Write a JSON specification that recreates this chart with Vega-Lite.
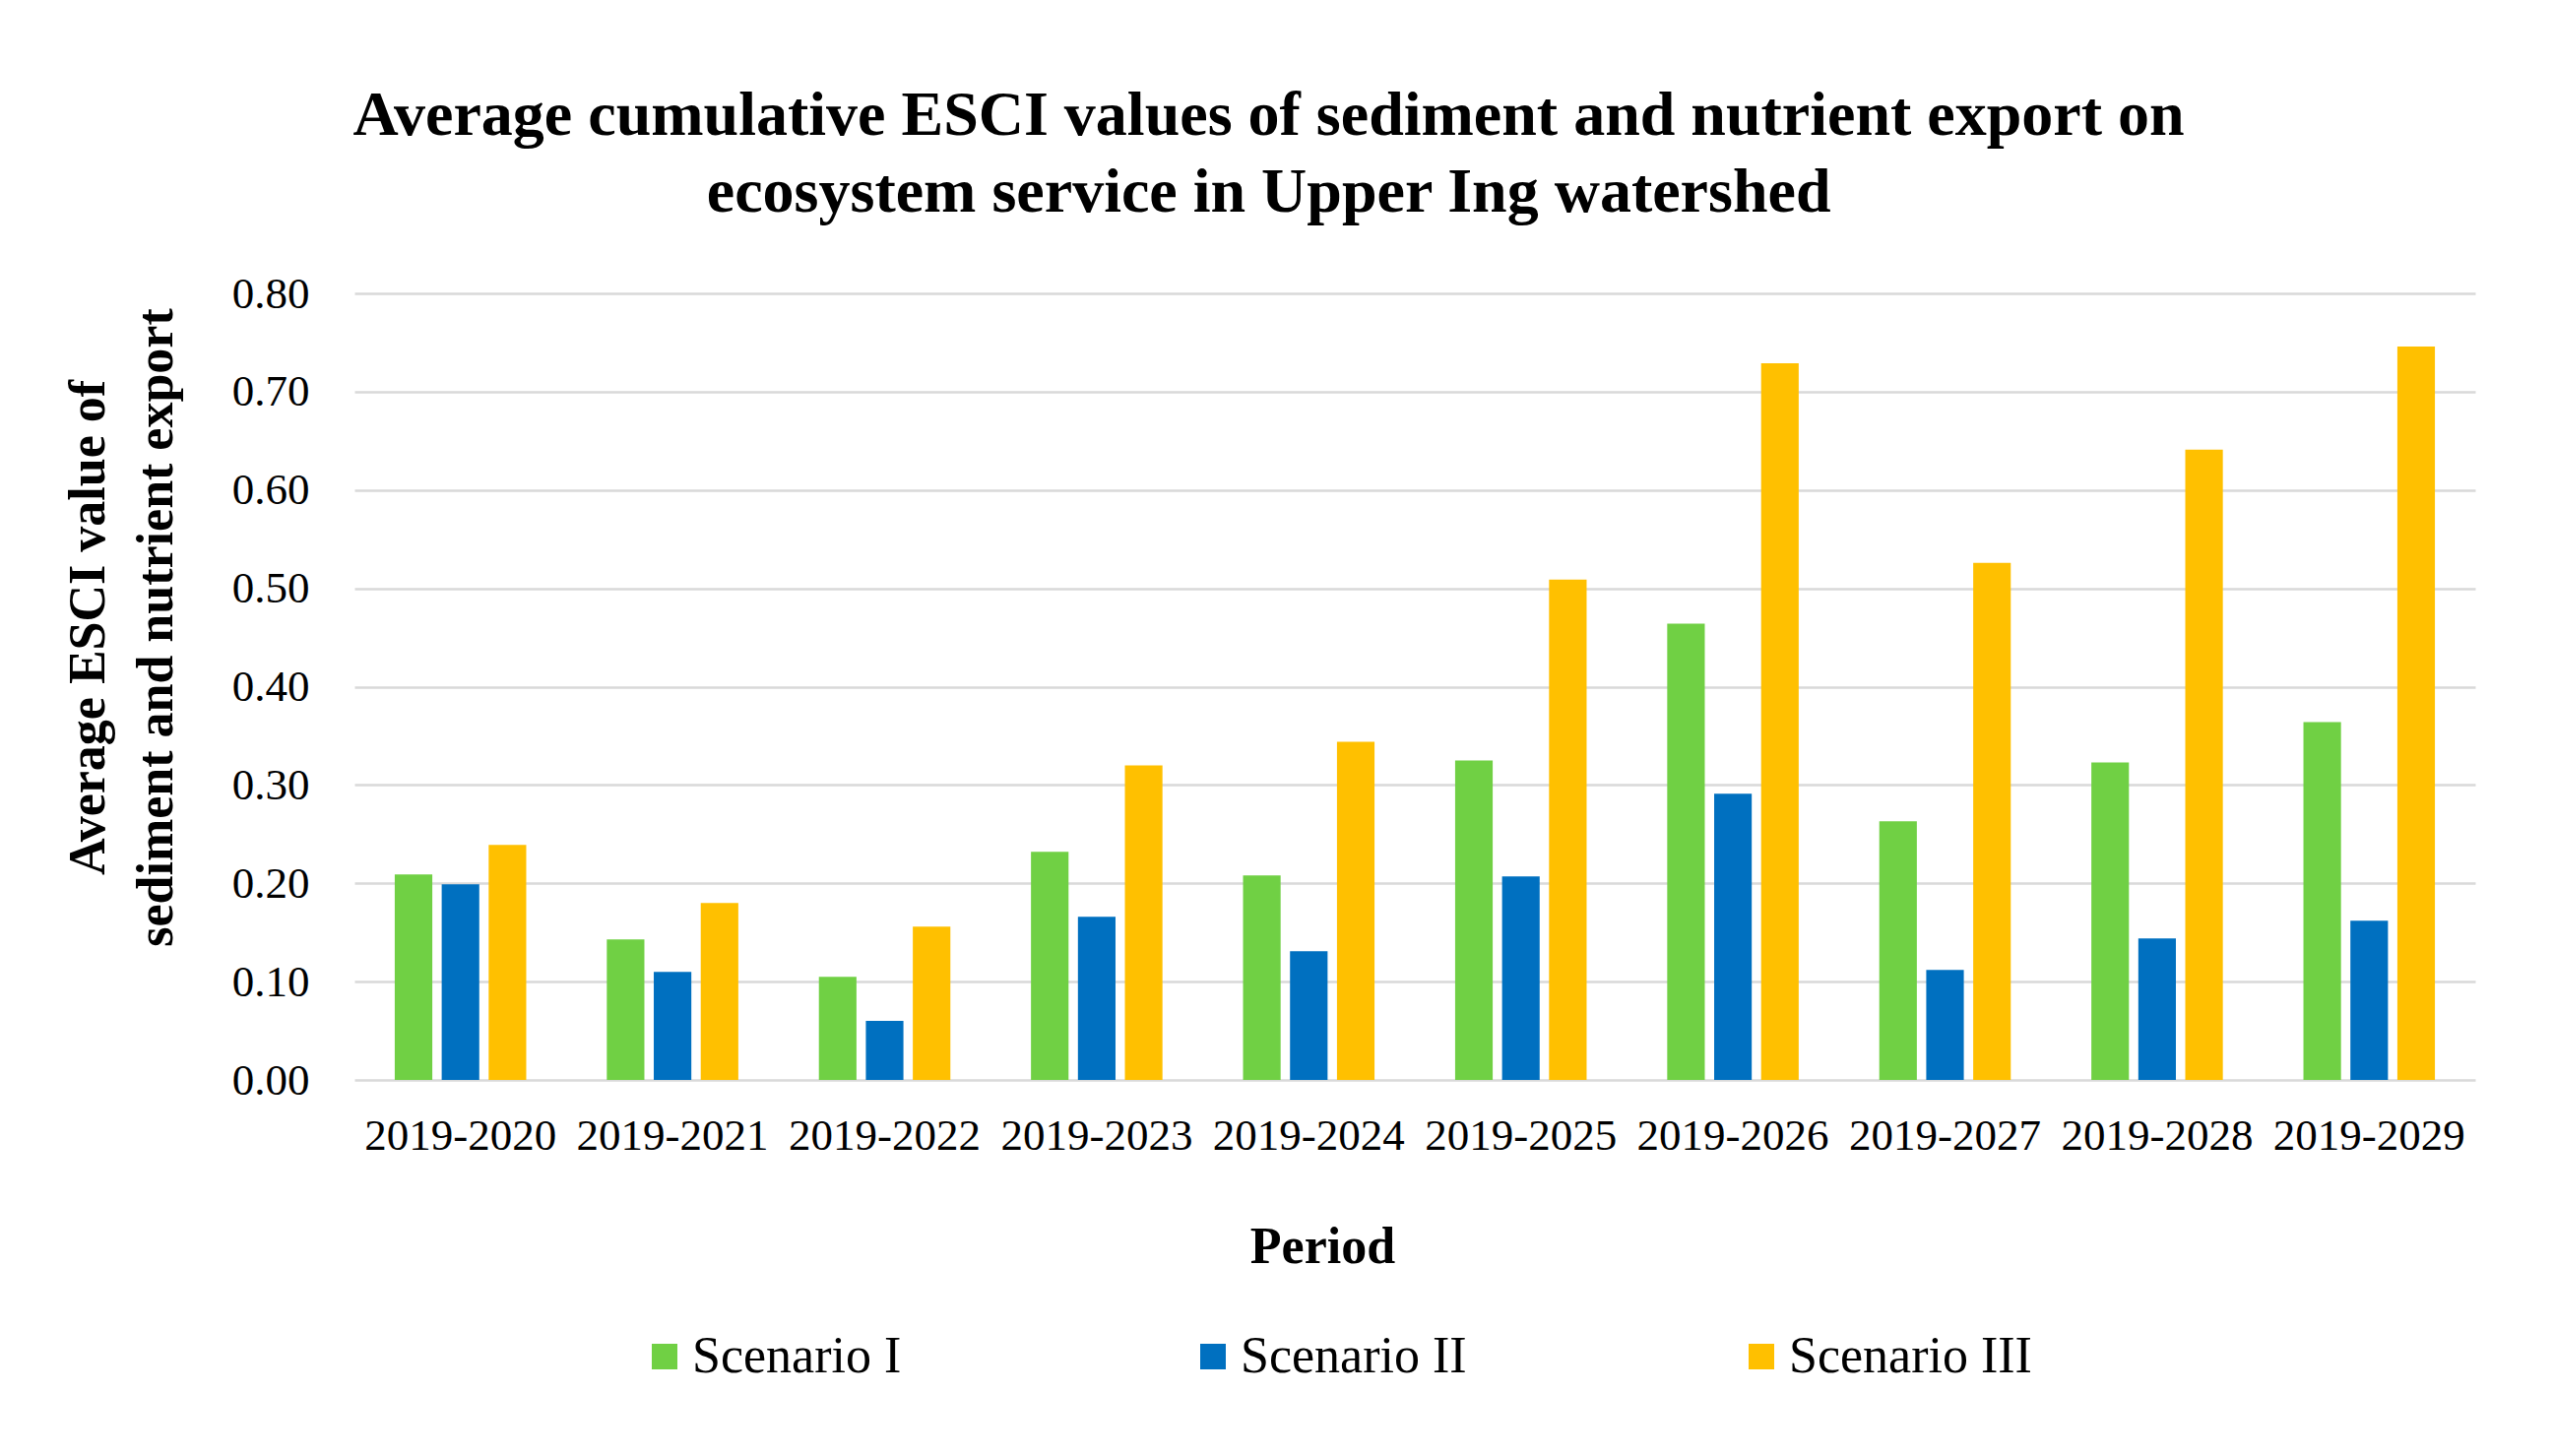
{
  "$schema": "https://vega.github.io/schema/vega-lite/v6.json",
  "width": 2154,
  "height": 799,
  "autosize": {"type": "none"},
  "padding": {"left": 360, "top": 298, "right": 79, "bottom": 382},
  "background": "white",
  "title": {
    "text": ["Average cumulative ESCI values of sediment and nutrient export on", "ecosystem service in Upper Ing watershed"],
    "anchor": "middle",
    "frame": "bounds",
    "font": "Liberation Serif",
    "fontSize": 64,
    "fontWeight": "bold",
    "lineHeight": 78,
    "offset": 48,
    "color": "#000000"
  },
  "data": {
    "values": [
      {"period": "2019-2020", "scenario": "Scenario I", "value": 0.209},
      {"period": "2019-2020", "scenario": "Scenario II", "value": 0.199},
      {"period": "2019-2020", "scenario": "Scenario III", "value": 0.239},
      {"period": "2019-2021", "scenario": "Scenario I", "value": 0.143},
      {"period": "2019-2021", "scenario": "Scenario II", "value": 0.110},
      {"period": "2019-2021", "scenario": "Scenario III", "value": 0.180},
      {"period": "2019-2022", "scenario": "Scenario I", "value": 0.105},
      {"period": "2019-2022", "scenario": "Scenario II", "value": 0.060},
      {"period": "2019-2022", "scenario": "Scenario III", "value": 0.156},
      {"period": "2019-2023", "scenario": "Scenario I", "value": 0.232},
      {"period": "2019-2023", "scenario": "Scenario II", "value": 0.166},
      {"period": "2019-2023", "scenario": "Scenario III", "value": 0.320},
      {"period": "2019-2024", "scenario": "Scenario I", "value": 0.208},
      {"period": "2019-2024", "scenario": "Scenario II", "value": 0.131},
      {"period": "2019-2024", "scenario": "Scenario III", "value": 0.344},
      {"period": "2019-2025", "scenario": "Scenario I", "value": 0.325},
      {"period": "2019-2025", "scenario": "Scenario II", "value": 0.207},
      {"period": "2019-2025", "scenario": "Scenario III", "value": 0.509},
      {"period": "2019-2026", "scenario": "Scenario I", "value": 0.464},
      {"period": "2019-2026", "scenario": "Scenario II", "value": 0.291},
      {"period": "2019-2026", "scenario": "Scenario III", "value": 0.729},
      {"period": "2019-2027", "scenario": "Scenario I", "value": 0.263},
      {"period": "2019-2027", "scenario": "Scenario II", "value": 0.112},
      {"period": "2019-2027", "scenario": "Scenario III", "value": 0.526},
      {"period": "2019-2028", "scenario": "Scenario I", "value": 0.323},
      {"period": "2019-2028", "scenario": "Scenario II", "value": 0.144},
      {"period": "2019-2028", "scenario": "Scenario III", "value": 0.641},
      {"period": "2019-2029", "scenario": "Scenario I", "value": 0.364},
      {"period": "2019-2029", "scenario": "Scenario II", "value": 0.162},
      {"period": "2019-2029", "scenario": "Scenario III", "value": 0.746}
    ]
  },
  "mark": {"type": "bar"},
  "encoding": {
    "x": {
      "field": "period",
      "type": "nominal",
      "scale": {"paddingInner": 0.38, "paddingOuter": 0.19},
      "axis": {
        "title": "Period",
        "labelAngle": 0,
        "labelFont": "Liberation Serif",
        "labelFontSize": 45,
        "labelColor": "#000000",
        "labelPadding": 34,
        "labelLimit": 0,
        "labelOverlap": false,
        "ticks": false,
        "tickSize": 0,
        "domain": false,
        "titleFont": "Liberation Serif",
        "titleFontSize": 52,
        "titleFontWeight": "bold",
        "titleColor": "#000000",
        "titlePadding": 65,
        "titleX": 983
      }
    },
    "xOffset": {
      "field": "scenario",
      "type": "nominal",
      "sort": ["Scenario I", "Scenario II", "Scenario III"],
      "scale": {"paddingInner": 0.2}
    },
    "y": {
      "field": "value",
      "type": "quantitative",
      "scale": {"domain": [0, 0.8], "nice": false},
      "axis": {
        "title": ["Average ESCI value of", "sediment and nutrient export"],
        "values": [0, 0.1, 0.2, 0.3, 0.4, 0.5, 0.6, 0.7, 0.8],
        "format": ".2f",
        "labelFont": "Liberation Serif",
        "labelFontSize": 45,
        "labelColor": "#000000",
        "labelPadding": 46,
        "ticks": false,
        "tickSize": 0,
        "domain": false,
        "grid": true,
        "gridColor": "#D9D9D9",
        "gridWidth": 2.5,
        "titleFont": "Liberation Serif",
        "titleFontSize": 52,
        "titleFontWeight": "bold",
        "titleColor": "#000000",
        "titleLineHeight": 69,
        "titlePadding": 50,
        "titleY": 339
      }
    },
    "color": {
      "field": "scenario",
      "type": "nominal",
      "scale": {
        "domain": ["Scenario I", "Scenario II", "Scenario III"],
        "range": ["#70D044", "#0070C0", "#FFC000"]
      },
      "legend": {
        "title": null,
        "orient": "none",
        "legendX": 289,
        "legendY": 1054,
        "direction": "horizontal",
        "symbolType": "square",
        "symbolSize": 676,
        "symbolStrokeWidth": 0,
        "symbolOpacity": 1,
        "labelFont": "Liberation Serif",
        "labelFontSize": 52,
        "labelColor": "#000000",
        "labelOffset": 2,
        "labelLimit": 0,
        "columnPadding": 256,
        "gridAlign": "all",
        "padding": 0
      }
    }
  },
  "config": {
    "view": {"stroke": null}
  }
}
